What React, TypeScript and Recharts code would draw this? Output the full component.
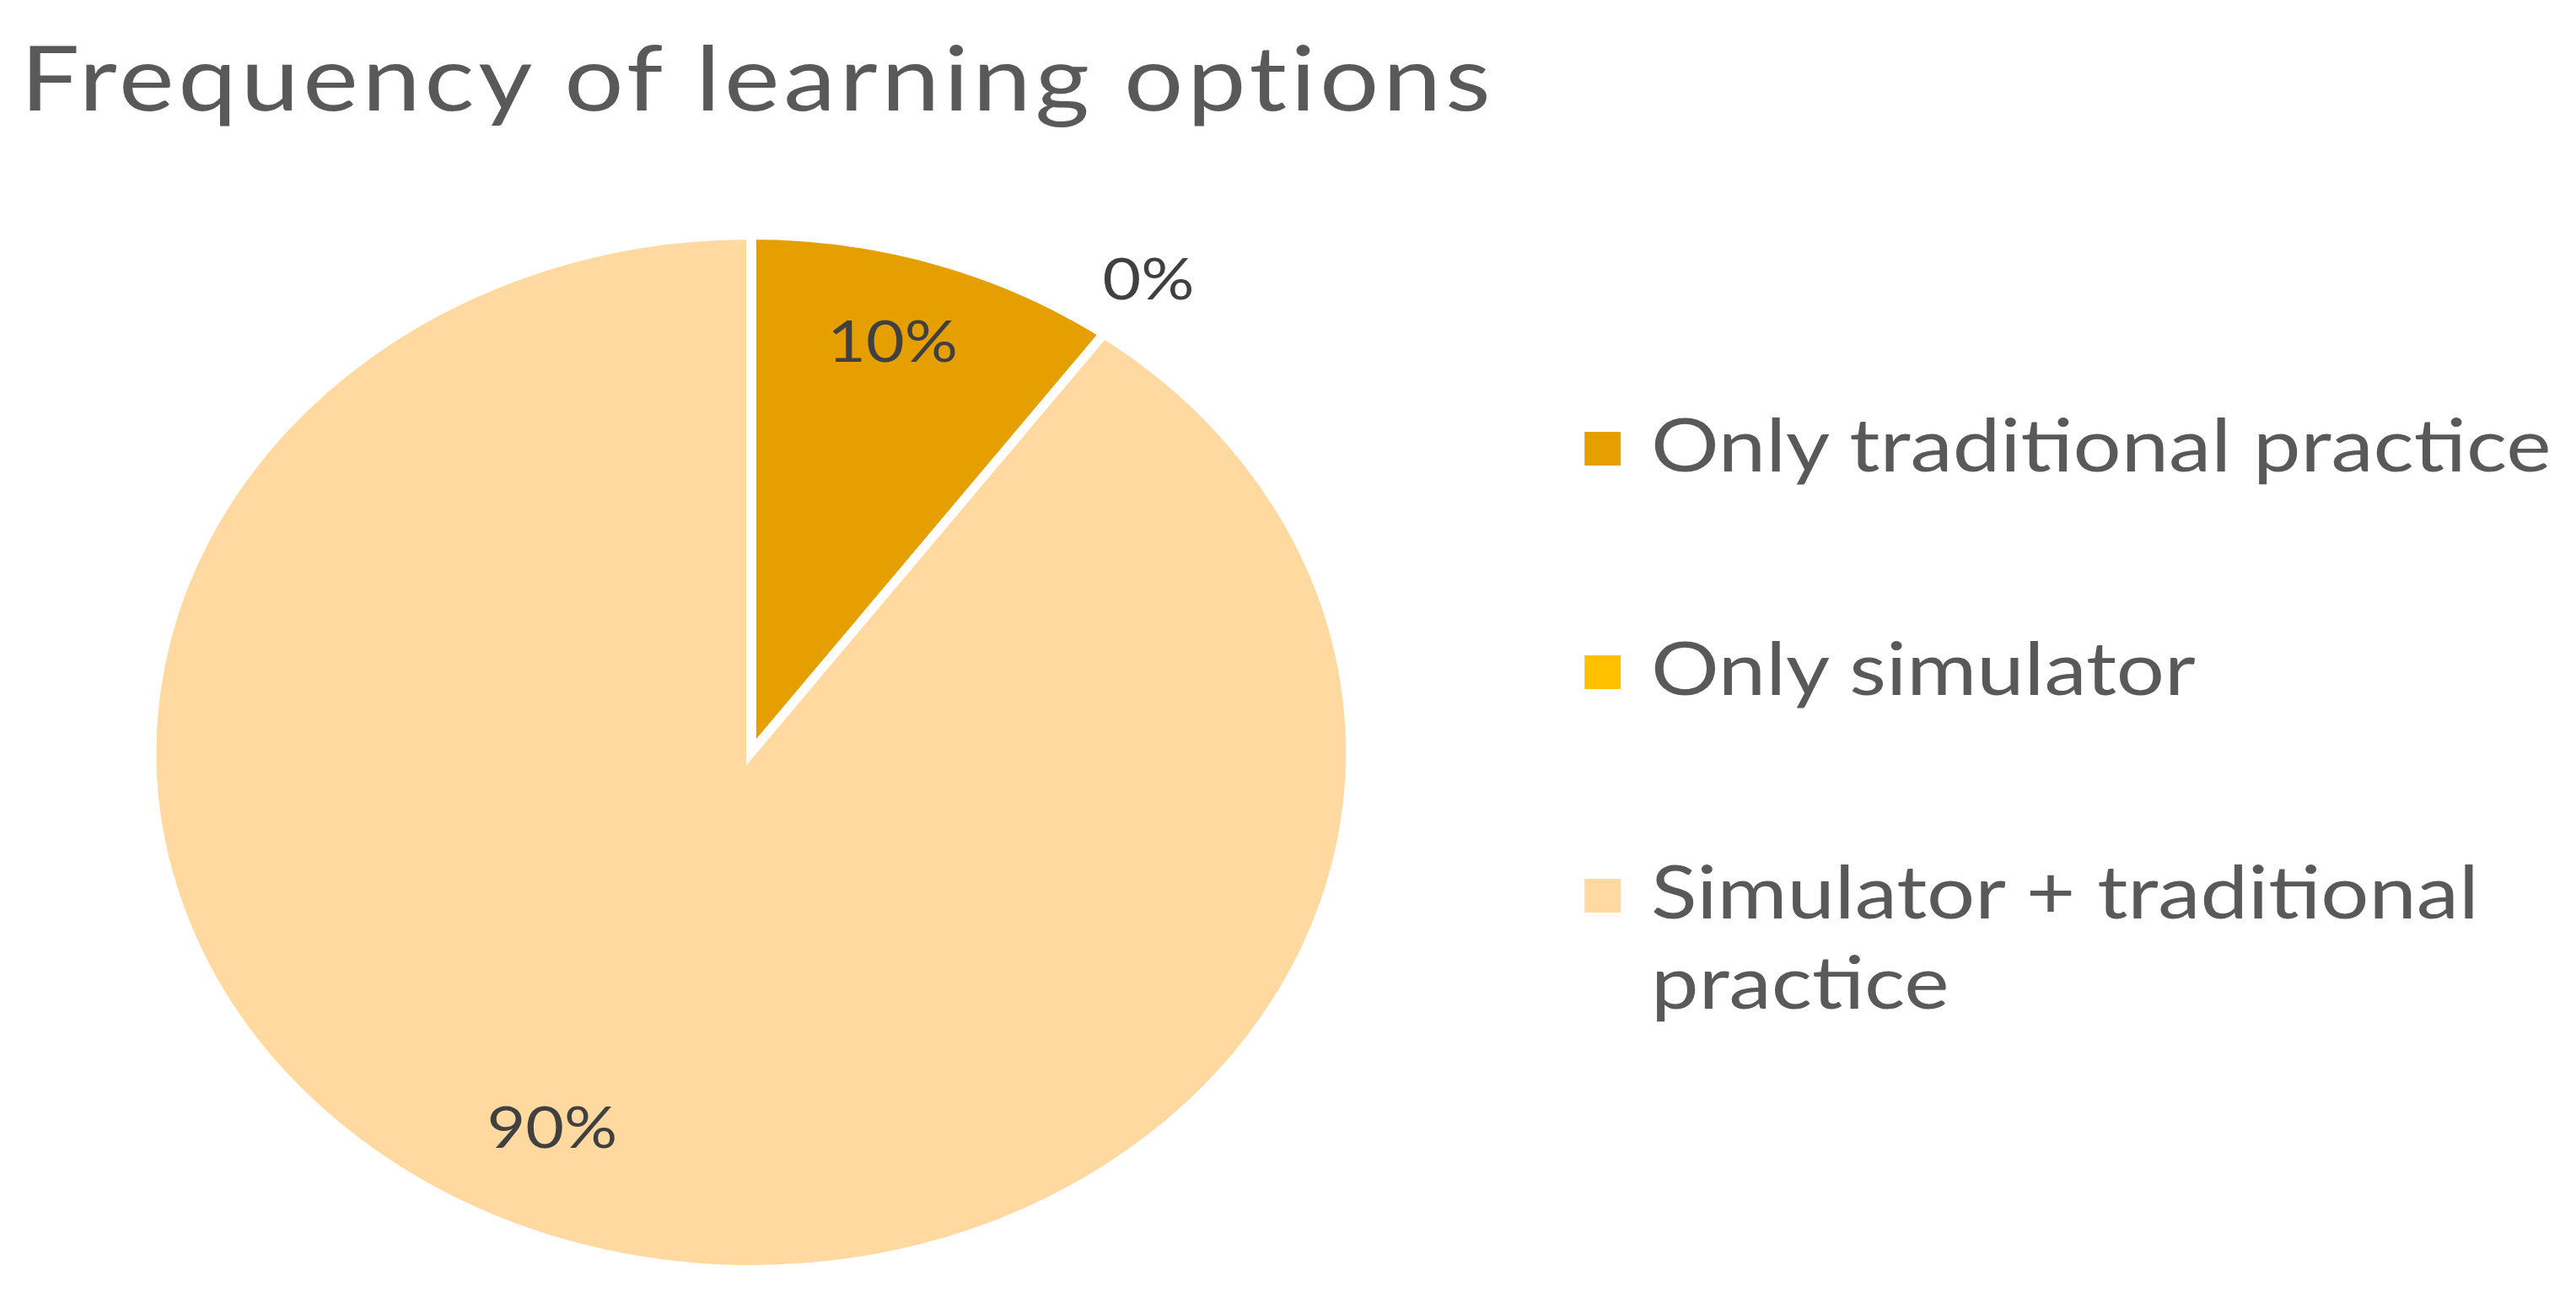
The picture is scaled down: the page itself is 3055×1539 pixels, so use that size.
import React from "react";
import { PieChart, Pie, Cell, Legend } from "recharts";

const categories = ["Only traditional practice", "Only simulator", "Simulator + traditional practice"];
const values = [10, 0, 90];
const colors = ["#E5A000", "#FFC000", "#FFD9A0"];
const title = "Frequency of learning options";

const data = categories.map((name, i) => ({ name, value: values[i] }));

const SX = 1.16;
const W = Math.round(3055 / SX);
const H = 1539;
const FONT = "Lato, 'Open Sans', sans-serif";
const RAD = Math.PI / 180;

const renderLabel = (props: any) => {
  const { cx, cy, midAngle, outerRadius, value, index } = props;
  let r = outerRadius * 0.826;
  let ang = midAngle + 1.4;
  if (value === 0) {
    r = outerRadius * 1.127;
    ang = midAngle;
  }
  if (index === 2) {
    ang = midAngle - 6.5;
    r = outerRadius * 0.8;
  }
  const x = cx + r * Math.cos(-ang * RAD);
  const y = cy + r * Math.sin(-ang * RAD);
  return (
    <text
      x={x}
      y={y - 4}
      textAnchor="middle"
      dominantBaseline="central"
      fill="#404040"
      fontSize={68}
      fontFamily={FONT}
    >
      {`${value}%`}
    </text>
  );
};

const renderLegend = (props: any) => {
  const payload = [...(props.payload || [])].sort(
    (a: any, b: any) => categories.indexOf(a.value) - categories.indexOf(b.value)
  );
  return (
    <div style={{ fontFamily: FONT }}>
      {payload.map((entry: any, i: number) => (
        <div
          key={i}
          style={{ position: "relative", height: 265, display: "flex", alignItems: "flex-start" }}
        >
          <div
            style={{
              width: 37,
              height: 40,
              background: colors[categories.indexOf(entry.value)] || entry.color,
              marginTop: 42,
              flex: "0 0 auto",
            }}
          />
          <div
            style={{
              marginLeft: 31,
              fontSize: 87,
              lineHeight: "107px",
              color: "#595959",
              width: 945,
              whiteSpace: "normal",
              marginTop: 2,
            }}
          >
            {entry.value}
          </div>
        </div>
      ))}
    </div>
  );
};

export default function App() {
  return (
    <div style={{ position: "absolute", left: 0, top: 0, width: 3055, height: H, background: "#fff", overflow: "hidden" }}>
      <div style={{ width: W, height: H, transform: `scaleX(${SX})`, transformOrigin: "0 0" }}>
        <PieChart width={W} height={H}>
          <text x={21} y={131} fontFamily={FONT} fontSize={107} fill="#595959" letterSpacing={4}>
            {title}
          </text>
          <Pie
            data={data}
            dataKey="value"
            nameKey="name"
            cx={763}
            cy={887}
            outerRadius={613}
            startAngle={90}
            endAngle={-270}
            stroke="#ffffff"
            strokeWidth={10}
            label={renderLabel}
            labelLine={false}
            isAnimationActive={false}
          >
            {data.map((d, i) => (
              <Cell key={d.name} fill={colors[i]} />
            ))}
          </Pie>
          <Legend
            content={renderLegend}
            layout="vertical"
            wrapperStyle={{ position: "absolute", left: 1620, top: 470, width: 1020 }}
          />
        </PieChart>
      </div>
    </div>
  );
}
